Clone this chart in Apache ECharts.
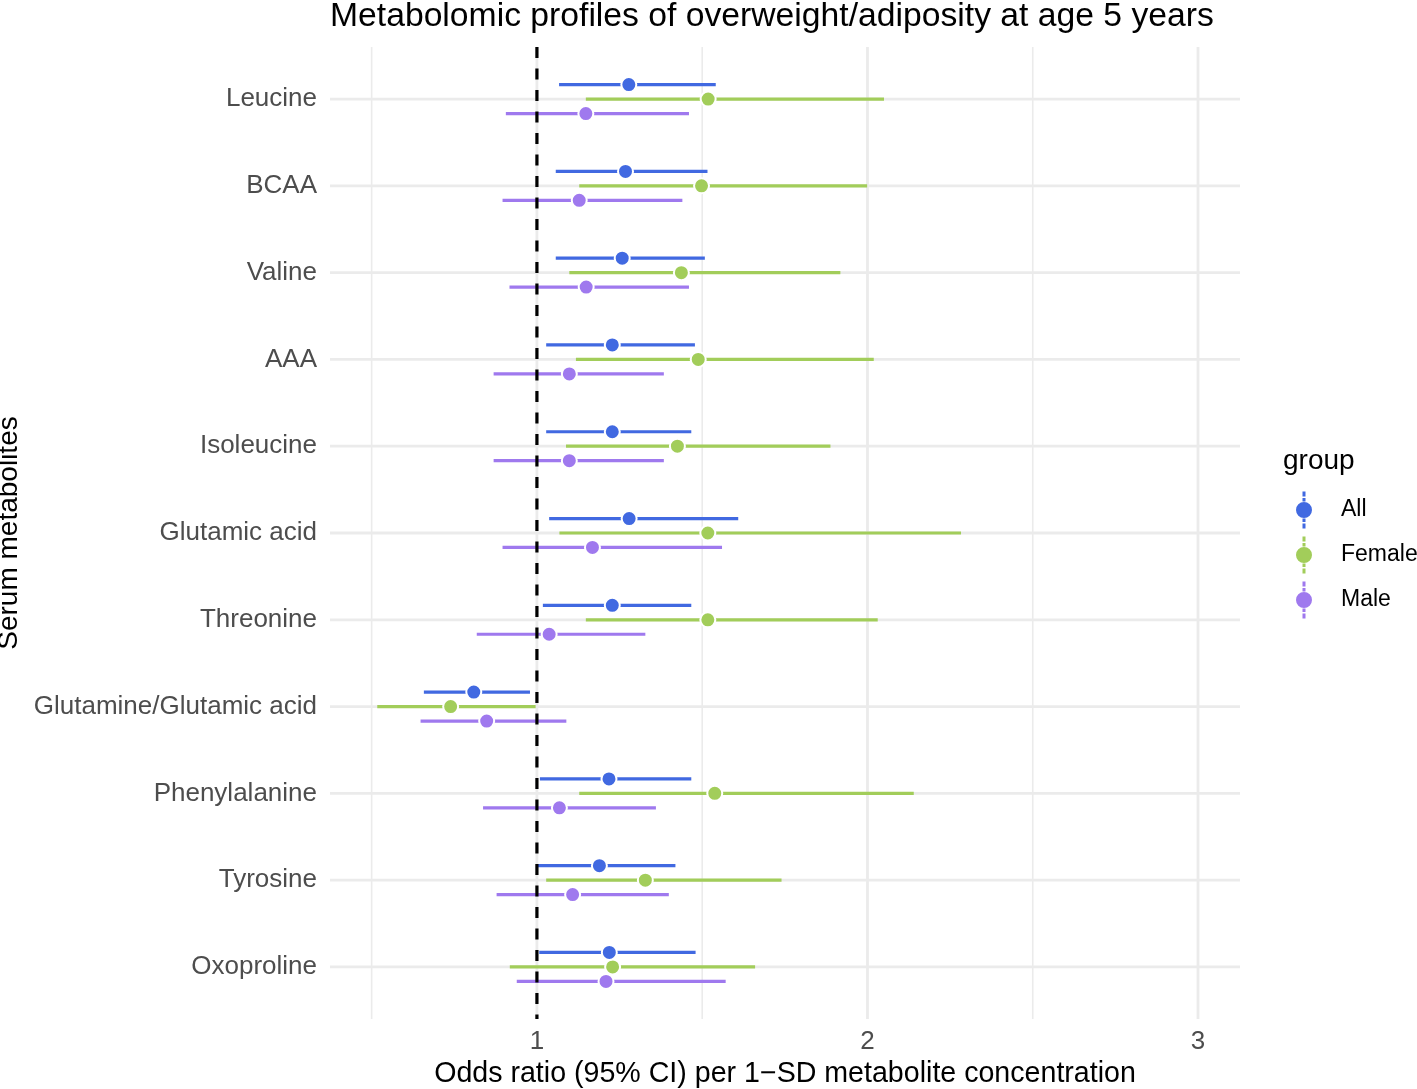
<!DOCTYPE html>
<html>
<head>
<meta charset="utf-8">
<script src="https://cdn.jsdelivr.net/npm/echarts@6/dist/echarts.min.js"></script>
<style>
html, body { margin: 0; padding: 0; background: #fff; }
#chart { width: 1417px; height: 1089px; }
</style>
</head>
<body>
<div id="chart"></div>
<script>
// ---- data ----
const categories = ['Leucine', 'BCAA', 'Valine', 'AAA', 'Isoleucine', 'Glutamic acid', 'Threonine',
  'Glutamine/Glutamic acid', 'Phenylalanine', 'Tyrosine', 'Oxoproline'];
const groups = ['All', 'Female', 'Male'];

const allOR = [1.278, 1.268, 1.258, 1.228, 1.228, 1.279, 1.228, 0.809, 1.218, 1.189, 1.219];
const allLo = [1.067, 1.057, 1.057, 1.028, 1.028, 1.037, 1.018, 0.658, 1.009, 0.999, 1.007];
const allHi = [1.541, 1.516, 1.508, 1.478, 1.467, 1.609, 1.467, 0.979, 1.467, 1.419, 1.480];

const femaleOR = [1.518, 1.498, 1.437, 1.488, 1.425, 1.517, 1.517, 0.739, 1.538, 1.328, 1.229];
const femaleLo = [1.148, 1.128, 1.098, 1.118, 1.088, 1.068, 1.148, 0.517, 1.128, 1.028, 0.918];
const femaleHi = [2.050, 1.999, 1.918, 2.019, 1.888, 2.283, 2.031, 0.996, 2.140, 1.740, 1.660];

const maleOR = [1.148, 1.128, 1.149, 1.098, 1.098, 1.168, 1.037, 0.848, 1.068, 1.108, 1.209];
const maleLo = [0.906, 0.896, 0.917, 0.869, 0.869, 0.896, 0.818, 0.648, 0.837, 0.878, 0.939];
const maleHi = [1.460, 1.440, 1.460, 1.384, 1.384, 1.560, 1.328, 1.089, 1.360, 1.399, 1.571];

const xMajorTicks = [1, 2, 3];
const xMinorTicks = [0.5, 1.5, 2.5];
const refLine = [1];

// ---- styling ----
const FONT = '"Liberation Sans", Arial, Helvetica, sans-serif';
const colors = { All: '#4169E1', Female: '#A2CD5A', Male: '#9F79EE' };
const dodge = { All: -1 / 6, Female: 0, Male: 1 / 6 };
const GRID_COLOR = '#EBEBEB';
const legendIcon = 'path://M6.5,0h3v5h-3z M6.5,6.5h3v3.5h-3z M6.5,27h3v3.5h-3z M6.5,32h3v5h-3z M0,18.5a8,8 0 1,1 16,0a8,8 0 1,1 -16,0z';

const seriesData = {
  All: [allOR, allLo, allHi],
  Female: [femaleOR, femaleLo, femaleHi],
  Male: [maleOR, maleLo, maleHi]
};

function groupSeries(name, z) {
  const [or, lo, hi] = seriesData[name];
  return {
    name: name,
    type: 'custom',
    z: z,
    itemStyle: { color: colors[name] },
    encode: { x: [1, 2, 3], y: 0 },
    data: categories.map((c, i) => [i, or[i], lo[i], hi[i]]),
    renderItem: function (params, api) {
      const yi = api.value(0);
      const band = api.size([0, 1])[1];
      const dy = dodge[name] * band;
      const pLo = api.coord([api.value(2), yi]);
      const pHi = api.coord([api.value(3), yi]);
      const pOR = api.coord([api.value(1), yi]);
      return {
        type: 'group',
        children: [
          { type: 'line', shape: { x1: pLo[0], y1: pLo[1] + dy, x2: pHi[0], y2: pHi[1] + dy },
            style: { stroke: colors[name], lineWidth: 3.2 } },
          { type: 'circle', shape: { cx: pOR[0], cy: pOR[1] + dy, r: 7.5 },
            style: { fill: colors[name], stroke: '#ffffff', lineWidth: 2 } }
        ]
      };
    }
  };
}

const chart = echarts.init(document.getElementById('chart'), null, { renderer: 'canvas' });

const option = {
  backgroundColor: '#ffffff',
  animation: false,
  textStyle: { fontFamily: FONT },
  title: [
    {
      text: 'Metabolomic profiles of overweight/adiposity at age 5 years',
      left: 330, top: 0, padding: 0,
      textStyle: { fontFamily: FONT, fontSize: 33.7, fontWeight: 'normal', color: '#000' }
    },
    {
      text: 'group',
      left: 1283, top: 447, padding: 0,
      textStyle: { fontFamily: FONT, fontSize: 28, fontWeight: 'normal', color: '#000' }
    }
  ],
  legend: {
    data: groups.map(g => ({ name: g, icon: legendIcon })),
    orient: 'vertical',
    left: 1296, top: 491.5,
    padding: 0,
    itemWidth: 64, itemHeight: 37, itemGap: 8,
    selectedMode: false,
    textStyle: { fontFamily: FONT, fontSize: 23, color: '#000' }
  },
  grid: { left: 330, right: 177, top: 47, bottom: 70, containLabel: false, outerBoundsMode: 'none' },
  xAxis: {
    type: 'value',
    min: 0.374, max: 3.127,
    name: 'Odds ratio (95% CI) per 1\u2212SD metabolite concentration',
    nameLocation: 'middle', nameGap: 41,
    nameTextStyle: { fontFamily: FONT, fontSize: 28.6, color: '#000' },
    axisLine: { show: false }, axisTick: { show: false }, splitLine: { show: false },
    axisLabel: {
      customValues: xMajorTicks,
      formatter: v => String(v),
      margin: 10,
      fontFamily: FONT, fontSize: 26, color: '#4D4D4D'
    }
  },
  yAxis: {
    type: 'value',
    min: -0.6, max: 10.6, inverse: true,
    name: 'Serum metabolites',
    nameLocation: 'middle', nameGap: 294,
    nameTextStyle: { fontFamily: FONT, fontSize: 28, color: '#000' },
    axisLine: { show: false }, axisTick: { show: false }, splitLine: { show: false },
    axisLabel: {
      customValues: categories.map((c, i) => i),
      formatter: v => categories[Math.round(v)] || '',
      margin: 13,
      padding: [6, 0, 0, 0],
      fontFamily: FONT, fontSize: 26, color: '#4D4D4D'
    }
  },
  series: [
    {
      name: 'vgrid', type: 'custom', z: 0, silent: true,
      encode: { x: 0 },
      data: xMinorTicks.map(v => [v, 0]).concat(xMajorTicks.map(v => [v, 1])),
      renderItem: function (params, api) {
        const cs = params.coordSys;
        const x = api.coord([api.value(0), 0])[0];
        return { type: 'line', shape: { x1: x, y1: cs.y, x2: x, y2: cs.y + cs.height },
          style: { stroke: GRID_COLOR, lineWidth: api.value(1) ? 2.8 : 1.6 } };
      }
    },
    {
      name: 'hgrid', type: 'custom', z: 0, silent: true,
      encode: { y: 0 },
      data: categories.map((c, i) => [i]),
      renderItem: function (params, api) {
        const cs = params.coordSys;
        const y = api.coord([1, api.value(0)])[1];
        return { type: 'line', shape: { x1: cs.x, y1: y, x2: cs.x + cs.width, y2: y },
          style: { stroke: GRID_COLOR, lineWidth: 2.8 } };
      }
    },
    groupSeries('Female', 2),
    groupSeries('All', 3),
    groupSeries('Male', 4),
    {
      name: 'ref', type: 'custom', z: 10, silent: true,
      encode: { x: 0 },
      data: refLine.map(v => [v]),
      renderItem: function (params, api) {
        const cs = params.coordSys;
        const x = api.coord([api.value(0), 0])[0];
        return { type: 'line', shape: { x1: x, y1: cs.y, x2: x, y2: cs.y + cs.height },
          style: { stroke: '#000', lineWidth: 3.2, lineDash: [11, 10.5] } };
      }
    }
  ]
};

chart.setOption(option);
</script>
</body>
</html>
